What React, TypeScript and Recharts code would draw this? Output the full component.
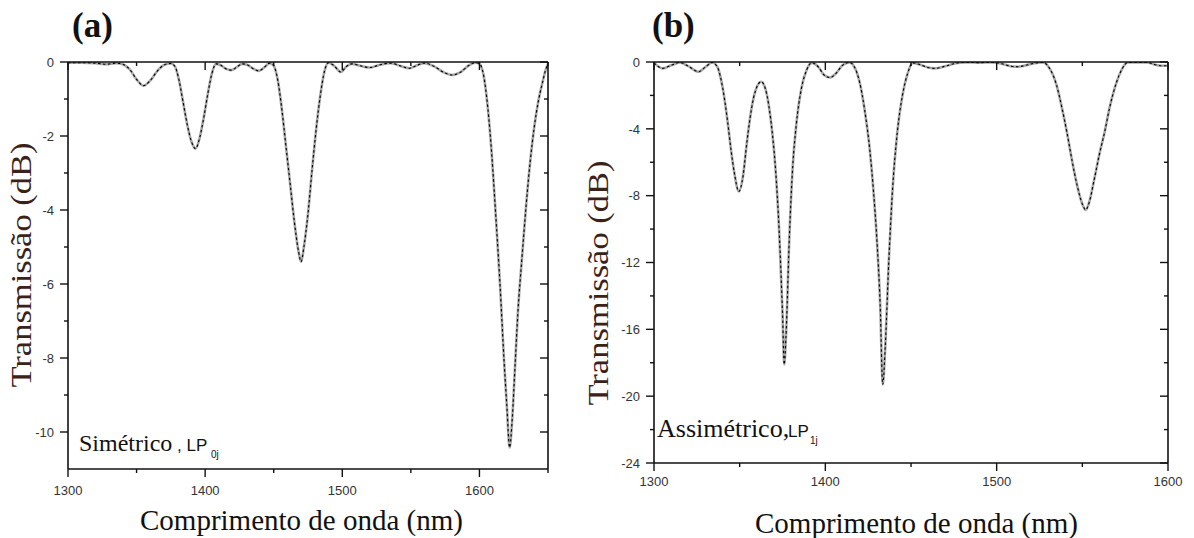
import React from 'react';
import { LineChart, Line, XAxis, YAxis } from 'recharts';

// ---------- Panel (a): symmetric, LP0j ----------
const wavelengthA = [
  1300, 1310, 1320, 1328, 1335, 1340, 1345, 1350, 1355, 1360, 1365, 1370, 1375, 1378, 1381, 1384, 1387,
  1390, 1393, 1396, 1399, 1402, 1405, 1408, 1411, 1415, 1419, 1423, 1427, 1431, 1435, 1439, 1443, 1447,
  1450, 1453, 1456, 1459, 1462, 1465, 1468, 1470, 1472, 1475, 1478, 1481, 1484, 1487, 1490, 1494, 1499,
  1503, 1507, 1513, 1520, 1527, 1535, 1542, 1549, 1555, 1560, 1567, 1574, 1580, 1586, 1592, 1597, 1600,
  1603, 1606, 1609, 1612, 1615, 1618, 1620, 1622, 1624, 1626, 1628, 1631, 1634, 1637, 1640, 1643, 1646,
  1648, 1650,
];
const transmissionA = [
  -0.02, -0.02, -0.03, -0.06, -0.03, -0.06, -0.2, -0.47, -0.64, -0.5, -0.25, -0.08, -0.04, -0.12, -0.5, -1.1, -1.7,
  -2.15, -2.34, -2.05, -1.5, -0.85, -0.3, -0.05, -0.08, -0.18, -0.22, -0.14, -0.05, -0.08, -0.18, -0.24, -0.15, -0.03,
  -0.1, -0.5, -1.3, -2.3, -3.3, -4.3, -5.1, -5.4, -5.0, -4.1, -2.9, -1.8, -0.9, -0.25, -0.02, -0.1, -0.27,
  -0.12, -0.05, -0.1, -0.15, -0.08, -0.03, -0.1, -0.17, -0.08, -0.03, -0.12, -0.28, -0.35, -0.28, -0.1, -0.02, -0.05,
  -0.35, -1.2, -2.5, -4.2, -6.0, -8.1, -9.3, -10.42, -9.6, -8.2, -6.8, -5.3, -3.9, -2.7, -1.75, -1.05, -0.55,
  -0.25, -0.05,
];
const xTicksA = [1300, 1350, 1400, 1450, 1500, 1550, 1600, 1650];
const xLabelsA = [1300, 1400, 1500, 1600];
const yTicksA = [0, -1, -2, -3, -4, -5, -6, -7, -8, -9, -10];
const yLabelsA = [0, -2, -4, -6, -8, -10];

// ---------- Panel (b): asymmetric, LP1j ----------
const wavelengthB = [
  1300, 1305, 1310, 1315, 1320, 1326, 1330, 1334, 1337, 1340, 1343, 1345, 1347, 1349.5, 1352, 1354, 1356,
  1358, 1360, 1362.5, 1365, 1367, 1369, 1371, 1373, 1375, 1376, 1377, 1379, 1381, 1383, 1386, 1389, 1392,
  1396, 1399, 1402.7, 1406, 1410, 1414, 1417, 1420, 1423, 1426, 1428, 1430, 1432, 1433.5, 1435, 1437, 1439,
  1442, 1445, 1448, 1451, 1455, 1460, 1464, 1470, 1476, 1482, 1490, 1497, 1503, 1508, 1512, 1517, 1522,
  1527, 1531, 1535, 1538, 1541, 1544, 1547, 1550, 1552, 1554, 1557, 1560, 1563, 1566, 1570, 1573, 1576.5,
  1582, 1588, 1592, 1596, 1600,
];
const transmissionB = [
  -0.05, -0.38, -0.2, -0.03, -0.25, -0.58, -0.3, -0.03, -0.3, -1.5, -3.6, -5.3, -6.7, -7.75, -6.8, -5.0, -3.4,
  -2.2, -1.5, -1.18, -1.6, -2.6, -4.2, -6.5, -10.0, -15.0, -18.1, -16.5, -10.5, -6.2, -3.8, -1.6, -0.5, -0.05,
  -0.3, -0.75, -0.93, -0.7, -0.2, -0.02, -0.3, -1.2, -2.9, -5.3, -7.6, -10.5, -14.5, -19.3, -17.0, -12.0, -8.0,
  -4.2, -2.0, -0.7, -0.05, -0.15, -0.33, -0.38, -0.25, -0.08, -0.02, -0.04, -0.02, -0.1, -0.25, -0.28, -0.2, -0.07,
  -0.02, -0.4, -1.4, -2.7, -4.2, -5.9, -7.4, -8.5, -8.85, -8.4, -7.0, -5.5, -4.2, -2.7, -1.2, -0.45, -0.03,
  -0.02, -0.03, -0.15, -0.22, -0.22,
];
const xTicksB = [1300, 1350, 1400, 1450, 1500, 1550, 1600];
const xLabelsB = [1300, 1400, 1500, 1600];
const yTicksB = [0, -2, -4, -6, -8, -10, -12, -14, -16, -18, -20, -22, -24];
const yLabelsB = [0, -4, -8, -12, -16, -20, -24];

const dataA = wavelengthA.map((x, i) => ({ x, t: transmissionA[i] }));
const dataB = wavelengthB.map((x, i) => ({ x, t: transmissionB[i] }));

const SANS = '"Liberation Sans", Arial, sans-serif';
const SERIF = '"Liberation Serif", "Times New Roman", serif';
const AXIS_COLOR = '#111';
const TICK_TEXT = '#333';

type Side = 'bottom' | 'left' | 'top' | 'right';

function makeTick(side: Side, labels: number[], labelOffset: number) {
  return (props: any) => {
    const { x, y, payload } = props;
    const v = payload.value;
    const major = labels.includes(v);
    const len = major ? 8 : 4;
    if (side === 'bottom') {
      return (
        <g>
          <line x1={x} y1={y} x2={x} y2={y + len} stroke={AXIS_COLOR} strokeWidth={1.4} />
          {major && (
            <text x={x} y={y + labelOffset} dy="0.72em" textAnchor="middle" fontFamily={SANS} fontSize={13} fill={TICK_TEXT}>
              {v}
            </text>
          )}
        </g>
      );
    }
    if (side === 'left') {
      return (
        <g>
          <line x1={x} y1={y} x2={x - len} y2={y} stroke={AXIS_COLOR} strokeWidth={1.4} />
          {major && (
            <text x={x - labelOffset} y={y} dy="0.36em" textAnchor="end" fontFamily={SANS} fontSize={13} fill={TICK_TEXT}>
              {v}
            </text>
          )}
        </g>
      );
    }
    if (side === 'top') {
      return <line x1={x} y1={y} x2={x} y2={y + len} stroke={AXIS_COLOR} strokeWidth={1.4} />;
    }
    return <line x1={x} y1={y} x2={x - len} y2={y} stroke={AXIS_COLOR} strokeWidth={1.4} />;
  };
}

const axisLine = { stroke: AXIS_COLOR, strokeWidth: 1.6 };

function Panel(props: {
  data: { x: number; t: number }[];
  xDomain: [number, number];
  yDomain: [number, number];
  xTicks: number[];
  xLabels: number[];
  yTicks: number[];
  yLabels: number[];
  margin: { top: number; right: number; bottom: number; left: number };
  yAxisWidth: number;
  xLabelOffset: number;
}) {
  const { data, xDomain, yDomain, xTicks, xLabels, yTicks, yLabels, margin, yAxisWidth, xLabelOffset } = props;
  return (
    <LineChart width={600} height={538} data={data} margin={margin}>
      <XAxis
        xAxisId="bottom"
        dataKey="x"
        type="number"
        domain={xDomain}
        allowDataOverflow
        ticks={xTicks}
        interval={0}
        height={40}
        axisLine={axisLine}
        tickLine={false}
        tickSize={0}
        tickMargin={0}
        tick={makeTick('bottom', xLabels, xLabelOffset)}
      />
      <XAxis
        xAxisId="top"
        orientation="top"
        dataKey="x"
        type="number"
        domain={xDomain}
        allowDataOverflow
        ticks={xTicks}
        interval={0}
        height={10}
        axisLine={axisLine}
        tickLine={false}
        tickSize={0}
        tickMargin={0}
        tick={makeTick('top', xLabels, 0)}
      />
      <YAxis
        yAxisId="left"
        type="number"
        domain={yDomain}
        allowDataOverflow
        ticks={yTicks}
        interval={0}
        width={yAxisWidth}
        axisLine={axisLine}
        tickLine={false}
        tickSize={0}
        tickMargin={0}
        tick={makeTick('left', yLabels, 14)}
      />
      <YAxis
        yAxisId="right"
        orientation="right"
        type="number"
        domain={yDomain}
        allowDataOverflow
        ticks={yTicks}
        interval={0}
        width={10}
        axisLine={axisLine}
        tickLine={false}
        tickSize={0}
        tickMargin={0}
        tick={makeTick('right', yLabels, 0)}
      />
      <Line
        xAxisId="bottom"
        yAxisId="left"
        type="monotone"
        dataKey="t"
        stroke="#a8a8a8"
        strokeWidth={2.6}
        dot={false}
        activeDot={false}
        isAnimationActive={false}
      />
      <Line
        xAxisId="top"
        yAxisId="right"
        type="monotone"
        dataKey="t"
        stroke="#000"
        strokeWidth={1.1}
        strokeDasharray="2.5 2.5"
        dot={false}
        activeDot={false}
        isAnimationActive={false}
      />
    </LineChart>
  );
}

export default function App() {
  const yLabelColor = '#3a2218';
  return (
    <div style={{ position: 'absolute', left: 0, top: 0, width: 1194, height: 538, background: '#fff', overflow: 'hidden' }}>
      <div style={{ position: 'absolute', left: 0, top: 0 }}>
        <Panel
          data={dataA}
          xDomain={[1300, 1650]}
          yDomain={[-11, 0]}
          xTicks={xTicksA}
          xLabels={xLabelsA}
          yTicks={yTicksA}
          yLabels={yLabelsA}
          margin={{ top: 52, right: 42, bottom: 29, left: 0 }}
          yAxisWidth={68}
          xLabelOffset={17}
        />
      </div>
      <div style={{ position: 'absolute', left: 594, top: 0 }}>
        <Panel
          data={dataB}
          xDomain={[1300, 1600]}
          yDomain={[-24, 0]}
          xTicks={xTicksB}
          xLabels={xLabelsB}
          yTicks={yTicksB}
          yLabels={yLabelsB}
          margin={{ top: 52, right: 16, bottom: 35, left: 0 }}
          yAxisWidth={60}
          xLabelOffset={14}
        />
      </div>
      <svg width={1194} height={538} style={{ position: 'absolute', left: 0, top: 0, pointerEvents: 'none' }}>
        <text x={72} y={37} fontFamily={SERIF} fontWeight="bold" fontSize={35} fill="#111">(a)</text>
        <text x={652} y={37} fontFamily={SERIF} fontWeight="bold" fontSize={35} fill="#111">(b)</text>

        <text x={140} y={530} fontFamily={SERIF} fontSize={29} fill="#111">Comprimento de onda (nm)</text>
        <text x={755} y={533} fontFamily={SERIF} fontSize={29} fill="#111">Comprimento de onda (nm)</text>

        <text
          x={31}
          y={265}
          transform="rotate(-90 31 265)"
          textAnchor="middle"
          textLength={245}
          lengthAdjust="spacingAndGlyphs"
          fontFamily={SERIF}
          fontSize={29}
          fill={yLabelColor}
        >
          Transmissão (dB)
        </text>
        <text
          x={608}
          y={283}
          transform="rotate(-90 608 283)"
          textAnchor="middle"
          textLength={245}
          lengthAdjust="spacingAndGlyphs"
          fontFamily={SERIF}
          fontSize={29}
          fill={yLabelColor}
        >
          Transmissão (dB)
        </text>

        <text y={451} fontFamily={SERIF} fontSize={24} fill="#111">
          <tspan x={79}>Simétrico</tspan>
          <tspan x={177} fontFamily={SANS} fontSize={17}>, LP</tspan>
          <tspan x={211} dy={7} fontFamily={SANS} fontSize={10}>0j</tspan>
        </text>
        <text y={437} fontFamily={SERIF} fontSize={26} fill="#111">
          <tspan x={657}>Assimétrico,</tspan>
          <tspan x={788} fontFamily={SANS} fontSize={17}>LP</tspan>
          <tspan x={810} dy={7} fontFamily={SANS} fontSize={10}>1j</tspan>
        </text>
      </svg>
    </div>
  );
}
